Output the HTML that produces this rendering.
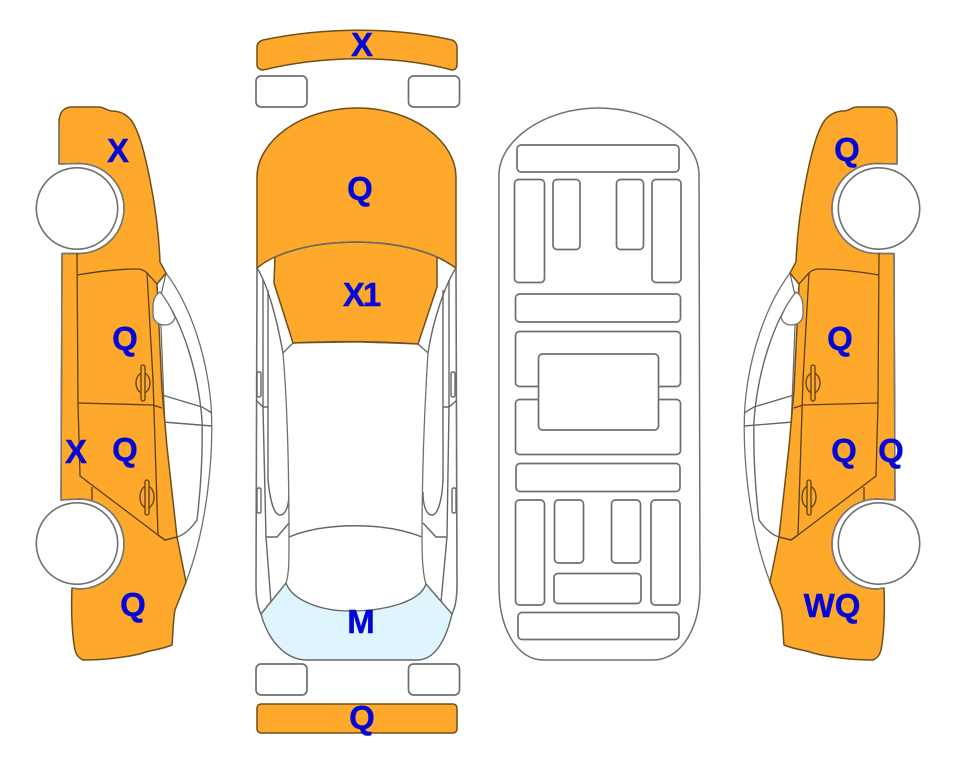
<!DOCTYPE html>
<html><head><meta charset="utf-8"><style>
html,body{margin:0;padding:0;background:#fff}
svg{display:block}
text{font-family:"Liberation Sans",sans-serif;font-weight:bold;font-size:33px;fill:#0505d8;text-anchor:middle;stroke:#0505d8;stroke-width:.4}
.o{fill:#ffa92c;stroke:#6e4e1c;stroke-width:1.5;stroke-linejoin:round}
.g{fill:#fff;stroke:#707070;stroke-width:1.6}
.l{fill:none;stroke:#666;stroke-width:1.4}
.d{fill:none;stroke:#5a4016;stroke-width:1.3}
.r rect{fill:#fff;stroke:#6f6f6f;stroke-width:1.7}
</style></head><body>
<svg width="963" height="768" viewBox="0 0 963 768" xmlns="http://www.w3.org/2000/svg">
<defs>
<g id="car">
  <path class="g" style="stroke-width:1.3" d="M166 273 C190 305 207 355 211 405 C214 450 208 525 186 582 L170 560 L160 300 Z"/>
  <path class="l" d="M160 292 C182 320 198 370 202 420 C203 460 200 495 197 520 C190 530 184 535 177 537 L165 540"/>
  <path class="l" d="M162 395 L202 407 L212 413 M163 422 L212 426"/>
  <path class="o" d="M59 123 C59 112 64 107 72 107 L100 107 C105 108 108 111 112 111 C120 111 126 114 131 120 C140 132 146 160 150 180 C155 205 159 235 160 262 L166 273 L157 284 L162 390 L167 447 L177 537 L186 582 L175 610 C173 620 173 635 172 645 C160 650 150 650 143 653 C125 658 100 660 83 660 C78 658 76 654 75 650 C72 635 71 610 72 588 L79 589 A45 45 0 0 0 79 499 L61 500 L62 253.500 L79 253.500 A45 45 0 0 0 79 163.500 L59 164 Z"/>
  <path class="l" style="stroke:#777" d="M59 123 L59 164 L79 163.500 A45 45 0 0 1 79 253.500 L62 253.500 L61 500 L79 499 A45 45 0 0 1 79 589 L72 588"/>
  <path class="l" style="stroke:#555" d="M177 537 L165 540 L158 535"/>
  <path class="d" d="M77 253 L78 403 L80 476 L158 535 L165 540 L177 537"/>
  <path class="d" d="M77 275 C95 272 115 269 137 269 C142 269 145 271 147 273 L157 284"/>
  <path class="d" d="M147 273 L153 380 L158 535"/>
  <path class="d" d="M78 403 L153 405 L162 408"/>
  <path class="d" d="M92 487 L92 500"/>
  <path class="g" style="stroke-width:1.3" d="M160 292 C155 295 153 300 153 307 L153 314 C153 321 158 325 165 325 C170 325 174 322 175 317 C171 308 166 299 160 292 Z"/>
  <g class="d">
    <ellipse cx="143" cy="383" rx="7" ry="10" class="d"/>
    <rect x="141" y="365" width="4" height="36" rx="2" class="d" style="fill:#ffa92c"/>
    <ellipse cx="147" cy="497" rx="7" ry="11" class="d"/>
    <rect x="145" y="480" width="4" height="35" rx="2" class="d" style="fill:#ffa92c"/>
  </g>
  <circle cx="77" cy="208.500" r="40.700" class="g"/>
  <circle cx="77" cy="543.500" r="40.700" class="g"/>
</g>
</defs>

<use href="#car"/>
<use href="#car" transform="translate(956 0) scale(-1 1)"/>

<!-- top view -->
<path class="o" d="M257 47 C257 43 260 41 263 40 C325 27 395 27 452 40 C455 41 457 44 457 47 L457 65 C457 68 455 70 452 70 C395 55 325 55 263 70 C260 70 257 68 257 65 Z"/>
<g class="r">
  <rect x="256" y="76" width="51" height="31" rx="5"/>
  <rect x="408.500" y="76" width="51" height="31" rx="5"/>
  <rect x="256" y="664" width="51" height="31" rx="5"/>
  <rect x="408.500" y="664" width="51" height="31" rx="5"/>
</g>
<rect class="o" x="257" y="704" width="200" height="29" rx="4"/>

<!-- body -->
<path class="g" d="M257 268 L256 585 C256 600 258 608 261 614 L452 614 C455 608 457 600 457 585 L456 268"/>
<path class="l" d="M263 280 L263 407 L266 537 L271 603 M449 280 L449 407 L447 537 L441 602"/>
<path class="l" d="M268 290 L268 480 C270 500 274 515 280 515 C286 515 289 505 289 492 M443 290 L443 480 C442 500 438 515 432 515 C426 515 423 505 423 492"/>
<path class="l" d="M256 400 L263 407 L268 407 M457 400 L449 407 L443 407"/>
<path class="l" d="M266 537 L277 537 L289 523 M447 537 L436 537 L423 523"/>
<path class="l" d="M257 268 C268 285 277 320 283 353 L293 343 M456 268 C445 285 433 320 428 353 L418 344"/>
<path class="g" style="stroke-width:1.3" d="M426 584 C423 575 422 560 422 540 C422 460 425 400 428 353 L418 344 L357 342 L293 343 L283 353 C287 400 289 460 289 540 C289 560 289 575 286 583"/>
<path class="l" d="M289 537 C325 522 385 522 422 537"/>
<path d="M261 614 L286 583 C292 600 320 611 350 611 C385 611 420 602 426 584 L452 614 C446 640 435 660 417 660 L307 660 C285 660 268 640 261 614 Z" style="fill:#dff5fd;stroke:#666;stroke-width:1.4"/>
<rect class="l" x="257" y="372" width="4" height="25" rx="1.500"/>
<rect class="l" x="257" y="488" width="4" height="25" rx="1.500"/>
<rect class="l" x="451" y="372" width="4" height="25" rx="1.500"/>
<rect class="l" x="452" y="488" width="4" height="25" rx="1.500"/>
<path class="o" d="M275 257 C300 246 330 242 357 242 C385 242 415 247 437 257 L437 287 L418 344 C375 341 335 341 293 343 L274 283 Z"/>
<path class="o" d="M257 268 L257 177 C257 142 300 108 357 108 C414 108 456 142 456 177 L456 268 C450 264 444 260 437 257 C415 247 385 242 357 242 C330 242 300 246 275 257 C268 260 262 264 257 268 Z"/>
<path d="M275 257 C300 246 330 242 357 242 C385 242 415 247 437 257" style="fill:none;stroke:#6c6c6c;stroke-width:1.400"/>

<!-- floor -->
<path class="g" style="fill:#fff;stroke-width:1.500" d="M499 175 C499 140 545 108 598 108 C653 108 699 140 699 175 L700 587 C700 630 680 660 653 660 L543 660 C518 660 499 630 499 587 Z"/>
<g class="r">
  <rect x="517" y="145" width="162" height="27" rx="4"/>
  <rect x="514.500" y="179.500" width="30" height="103" rx="4"/>
  <rect x="553" y="179.500" width="27" height="70" rx="4"/>
  <rect x="616.500" y="179.500" width="27" height="70" rx="4"/>
  <rect x="652" y="179.500" width="29" height="103" rx="4"/>
  <rect x="515.500" y="294" width="165" height="28" rx="4"/>
  <rect x="515.500" y="331.500" width="165" height="55" rx="4"/>
  <rect x="515.500" y="399.500" width="165" height="55" rx="4"/>
  <rect x="538.500" y="354" width="120" height="76" rx="4"/>
  <rect x="516" y="463.500" width="164" height="28" rx="4"/>
  <rect x="515.500" y="500" width="29" height="105" rx="4"/>
  <rect x="554.500" y="500" width="29" height="63" rx="4"/>
  <rect x="611.500" y="500" width="29" height="63" rx="4"/>
  <rect x="651" y="500" width="29" height="105" rx="4"/>
  <rect x="554" y="573.500" width="87" height="30" rx="4"/>
  <rect x="518" y="612.500" width="161" height="27" rx="4"/>
</g>

<text x="118" y="162">X</text>
<text x="125" y="350">Q</text>
<text x="76" y="463">X</text>
<text x="125" y="461">Q</text>
<text x="133" y="616">Q</text>
<text x="362" y="56">X</text>
<text x="360" y="200">Q</text>
<text x="361" y="306" style="letter-spacing:-2px">X1</text>
<text x="361" y="633">M</text>
<text x="362" y="729">Q</text>
<text x="847" y="161">Q</text>
<text x="840" y="350">Q</text>
<text x="844" y="462">Q</text>
<text x="891" y="462">Q</text>
<text x="832" y="617">WQ</text>
</svg>
</body></html>
